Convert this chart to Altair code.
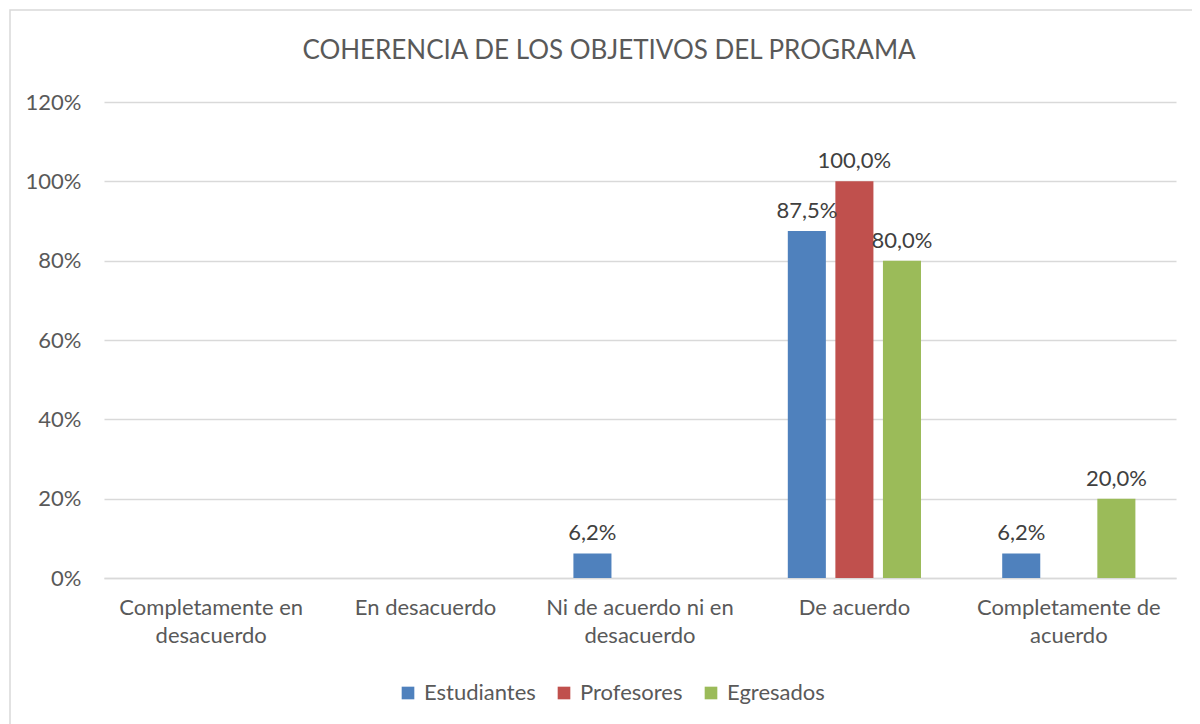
import altair as alt
import pandas as pd

FONT = "Lato"
TEXT_GRAY = "#595959"
GRID = "#d9d9d9"
FS = 22

categories = [
    "Completamente en desacuerdo",
    "En desacuerdo",
    "Ni de acuerdo ni en desacuerdo",
    "De acuerdo",
    "Completamente de acuerdo",
]
category_lines = [
    ["Completamente en", "desacuerdo"],
    ["En desacuerdo"],
    ["Ni de acuerdo ni en", "desacuerdo"],
    ["De acuerdo"],
    ["Completamente de", "acuerdo"],
]
series = ["Estudiantes", "Profesores", "Egresados"]
estudiantes = [0, 0, 6.2, 87.5, 6.2]
profesores = [0, 0, 0, 100.0, 0]
egresados = [0, 0, 0, 80.0, 20.0]
colors = ["#4F81BD", "#C0504D", "#9BBB59"]
y_ticks = [0, 0.2, 0.4, 0.6, 0.8, 1.0, 1.2]
title_text = "COHERENCIA DE LOS OBJETIVOS DEL PROGRAMA"

rows = []
for s, vals in zip(series, [estudiantes, profesores, egresados]):
    for c, v in zip(categories, vals):
        rows.append({
            "Categoria": c,
            "Serie": s,
            "Valor": v / 100,
            "Etiqueta": (f"{v:.1f}".replace(".", ",") + "%") if v > 0 else "",
        })
df = pd.DataFrame(rows)

# multi-line axis labels
expr = "datum.label"
for c, lines in reversed(list(zip(categories, category_lines))):
    arr = "[" + ",".join("'" + l + "'" for l in lines) + "]"
    expr = f"datum.label == '{c}' ? {arr} : ({expr})"

x_enc = alt.X(
    "Categoria:N",
    sort=categories,
    scale=alt.Scale(paddingInner=0.33, paddingOuter=0.165),
    axis=alt.Axis(
        title=None, labelAngle=0, labelExpr=expr, labelFontSize=FS,
        labelColor=TEXT_GRAY, labelFont=FONT, labelPadding=19, ticks=False,
        domainColor=GRID, domainWidth=1.5, labelLineHeight=28, grid=False,
        labelLimit=300,
    ),
)
xoff = alt.XOffset("Serie:N", sort=series,
                   scale=alt.Scale(paddingInner=0.2, paddingOuter=0.11))
y_enc = alt.Y(
    "Valor:Q",
    scale=alt.Scale(domain=[0, 1.2]),
    axis=alt.Axis(
        values=y_ticks, format=".0%", title=None, domain=False, ticks=False,
        gridColor=GRID, gridWidth=1.5, labelFontSize=FS, labelColor=TEXT_GRAY,
        labelFont=FONT, labelPadding=23,
    ),
)

border = alt.Chart(pd.DataFrame({"k": [0]})).mark_rect(
    fillOpacity=0, stroke=GRID, strokeWidth=1.5
).encode(
    x=alt.value(-94), x2=alt.value(1110), y=alt.value(-92), y2=alt.value(650)
)

title = alt.Chart(pd.DataFrame({"t": [title_text]})).mark_text(
    fontSize=26, color=TEXT_GRAY, font=FONT, fontWeight="normal",
    align="center", baseline="middle"
).encode(
    text="t:N", x=alt.value(505), y=alt.value(-51)
)

bars = alt.Chart(df).mark_bar().encode(
    x=x_enc,
    xOffset=xoff,
    y=y_enc,
    color=alt.Color(
        "Serie:N", sort=series,
        scale=alt.Scale(domain=series, range=colors),
        legend=alt.Legend(
            title=None, orient="none", direction="horizontal",
            legendX=293, legendY=580, symbolType="square", symbolSize=160,
            symbolStrokeWidth=0, labelFontSize=FS, labelColor=TEXT_GRAY,
            labelFont=FONT, columnPadding=17, labelOffset=5, labelLimit=300,
        ),
    ),
)

labels = alt.Chart(df).transform_filter("datum.Etiqueta != ''").mark_text(
    baseline="bottom", dy=-8, fontSize=FS, color="#404040", font=FONT
).encode(
    x=x_enc, xOffset=xoff, y=y_enc, text="Etiqueta:N"
)

chart = alt.layer(border, title, bars, labels).properties(
    width=1072,
    height=476,
    padding={"left": 96, "top": 94, "right": 16, "bottom": 146},
    autosize=alt.AutoSizeParams(type="none"),
).configure_view(stroke=None)

chart.save("out.html", embed_options={"renderer": "svg", "actions": False})
